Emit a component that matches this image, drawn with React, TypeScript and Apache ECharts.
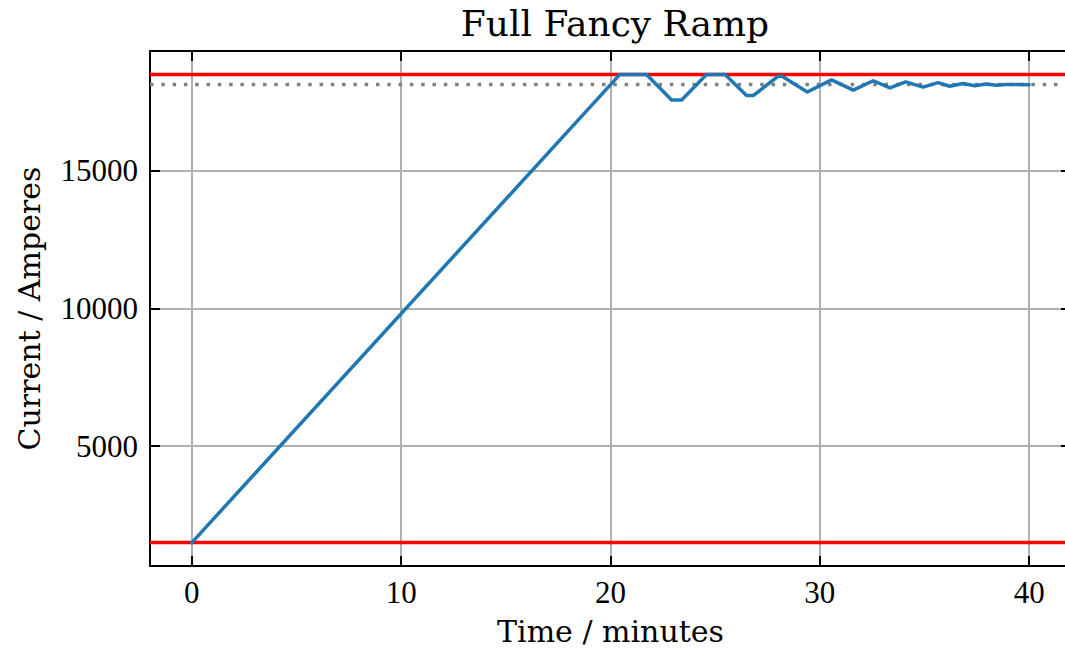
import React, { useEffect, useRef } from "react";
import * as echarts from "echarts";

const timeMinutes = [0, 20.45, 21.72, 22.92, 23.4, 24.59, 25.47, 26.5, 26.82, 28.0, 28.2, 29.4, 30.56, 31.6, 32.55, 33.35, 34.1, 34.93, 35.65, 36.2, 36.85, 37.4, 37.95, 38.45, 38.9, 40];
const currentAmps = [1500, 18500, 18500, 17570, 17570, 18500, 18500, 17730, 17730, 18430, 18430, 17860, 18300, 17930, 18270, 18010, 18230, 18040, 18200, 18070, 18170, 18090, 18150, 18110, 18135, 18125];
const lowerLimit = 1500;
const upperLimit = 18500;
const targetCurrent = 18130;
const xTicks = [0, 10, 20, 30, 40];
const yTicks = [5000, 10000, 15000];
const xRange = [-2, 42];
const yRange = [650, 19350];

const TICK_FONT = "'Liberation Serif', serif";
const TEXT_FONT = "'DejaVu Serif', serif";

export default function App() {
  const ref = useRef<HTMLDivElement>(null);
  useEffect(() => {
    if (!ref.current) return;
    const chart = echarts.init(ref.current, undefined, { renderer: "svg" });
    const axisLine = { show: true, onZero: false, lineStyle: { color: "#000", width: 2 } };
    const tick = (vals: number[]) => ({
      show: true,
      inside: true,
      length: 10,
      customValues: vals,
      lineStyle: { color: "#000", width: 2 },
    });
    const pts = timeMinutes.map((t, i) => [t, currentAmps[i]]);
    const hline = (v: number) => [
      [xRange[0], v],
      [xRange[1], v],
    ];
    chart.setOption({
      animation: false,
      backgroundColor: "#fff",
      title: {
        text: "Full Fancy Ramp",
        left: 610,
        top: 0,
        textAlign: "center",
        textStyle: { fontFamily: TEXT_FONT, fontSize: 36, fontWeight: "normal", color: "#000" },
      },
      grid: { left: 150, top: 51, right: 0, bottom: 88, containLabel: false },
      xAxis: [
        {
          type: "value",
          position: "bottom",
          min: xRange[0],
          max: xRange[1],
          axisLine,
          axisTick: tick(xTicks),
          axisLabel: {
            customValues: xTicks,
            margin: 11,
            color: "#000",
            fontFamily: TICK_FONT,
            fontSize: 31,
            formatter: (v: number) => String(v),
          },
          splitLine: { show: true, lineStyle: { color: "#b0b0b0", width: 2 } },
          name: "Time / minutes",
          nameLocation: "middle",
          nameGap: 50,
          nameTextStyle: { fontFamily: TEXT_FONT, fontSize: 30, color: "#000" },
        },
        {
          type: "value",
          position: "top",
          min: xRange[0],
          max: xRange[1],
          axisLine,
          axisTick: tick(xTicks),
          axisLabel: { show: false },
          splitLine: { show: false },
        },
      ],
      yAxis: [
        {
          type: "value",
          position: "left",
          min: yRange[0],
          max: yRange[1],
          axisLine,
          axisTick: tick(yTicks),
          axisLabel: {
            customValues: yTicks,
            margin: 12,
            color: "#000",
            fontFamily: TICK_FONT,
            fontSize: 31,
            formatter: (v: number) => String(v),
          },
          splitLine: { show: true, lineStyle: { color: "#b0b0b0", width: 2 } },
          name: "Current / Amperes",
          nameLocation: "middle",
          nameGap: 106,
          nameTextStyle: { fontFamily: TEXT_FONT, fontSize: 30, color: "#000" },
        },
        {
          type: "value",
          position: "right",
          min: yRange[0],
          max: yRange[1],
          axisLine,
          axisTick: tick(yTicks),
          axisLabel: { show: false },
          splitLine: { show: false },
        },
      ],
      series: [
        {
          type: "line",
          data: hline(lowerLimit),
          symbol: "none",
          lineStyle: { color: "#ff0000", width: 3.5 },
          z: 3,
          silent: true,
        },
        {
          type: "line",
          data: hline(upperLimit),
          symbol: "none",
          lineStyle: { color: "#ff0000", width: 3.5 },
          z: 3,
          silent: true,
        },
        {
          type: "line",
          data: hline(targetCurrent),
          symbol: "none",
          lineStyle: { color: "#808080", width: 3.5, type: [3.5, 7.8], cap: "butt" },
          z: 4,
          silent: true,
        },
        {
          type: "line",
          data: pts,
          symbol: "none",
          lineStyle: { color: "#1f77b4", width: 3.5, join: "round", cap: "round" },
          z: 5,
          silent: true,
        },
      ],
    });
    return () => chart.dispose();
  }, []);
  return (
    <div
      style={{
        position: "absolute",
        left: 0,
        top: 0,
        width: 1065,
        height: 654,
        overflow: "hidden",
        background: "#fff",
      }}
    >
      <div ref={ref} style={{ width: 1071, height: 654 }} />
    </div>
  );
}
